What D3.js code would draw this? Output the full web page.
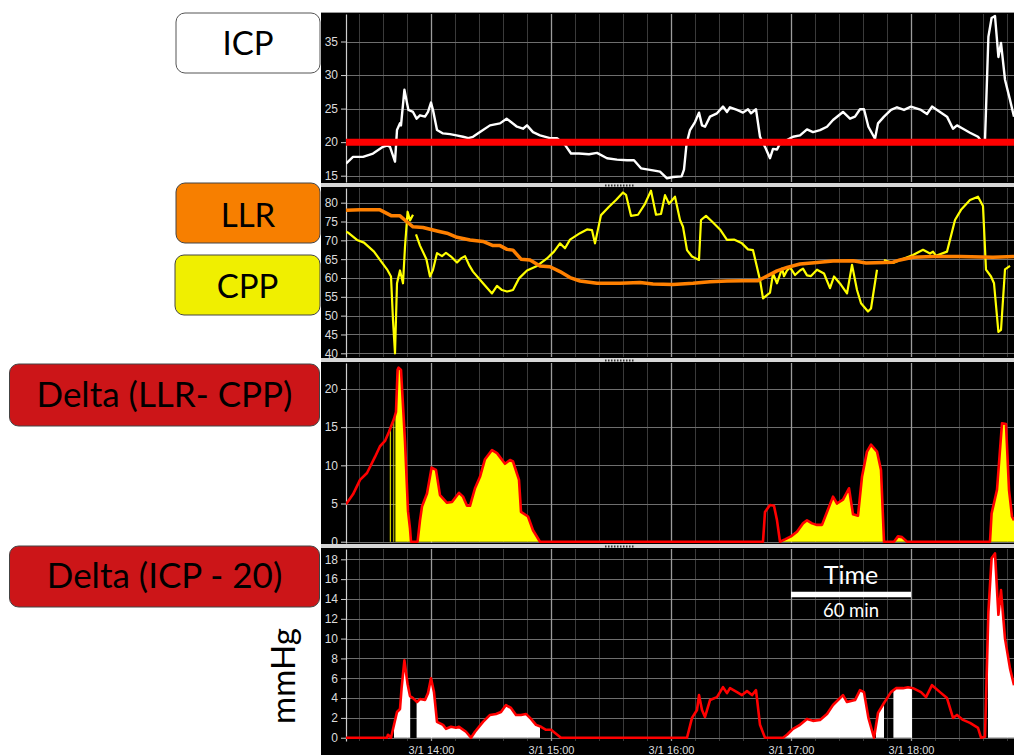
<!DOCTYPE html>
<html><head><meta charset="utf-8">
<script src="https://cdn.jsdelivr.net/npm/d3@7"></script>
<style>body{margin:0;background:#fff;} svg{display:block;}</style>
</head><body>
<svg id="c" width="1014" height="755"></svg>
<script>
// ---------- DATA (time = minutes after 13:00 on 3/1) ----------
const timeStart = 17.5, timeEnd = 351.5;
const icpTicks = [15, 20, 25, 30, 35];
const pressureTicks = [40, 45, 50, 55, 60, 65, 70, 75, 80];
const deltaLlrTicks = [0, 5, 10, 15, 20];
const deltaIcpTicks = [0, 2, 4, 6, 8, 10, 12, 14, 16, 18];
const icpThreshold = 20;

const icpSeries = [[17.5,16.8],[21,17.8],[26,17.8],[31,18.3],[36,19.3],[38,19.5],[39.5,19.3],[42,17.1],[43,21.8],[44.5,22.8],[45,22.5],[46.7,27.8],[48.7,24.8],[51,24.5],[52.8,23.5],[54.5,24],[57,23.8],[58.5,24.5],[60,25.9],[61,24.8],[63,21.8],[66,21.3],[69.5,21.2],[72.7,21],[76,20.8],[78.7,20.6],[81,20.8],[84.5,21.5],[89.5,22.5],[94.5,22.8],[97.8,23.5],[100,23],[103,22.3],[106,22],[108,22.5],[111,21.5],[114.5,21],[119.5,20.6],[123,20.6],[127,19.6],[130,18.3],[134,18.3],[139,18.2],[143,18.4],[148,17.6],[153,17.4],[158,17.3],[161.5,17.3],[165,16.1],[171,15.8],[174.5,15.6],[178,14.6],[181,14.8],[185.3,14.9],[186.5,15.9],[187.8,19.8],[189.5,21.8],[192,23],[194,24.4],[195.5,22.5],[197,22.3],[199.5,23.8],[203,24.3],[206,25.3],[208,24.5],[209.5,25.2],[213,24.8],[216,24.4],[218.5,24.9],[220,24.3],[222.5,24.9],[224.5,20.8],[227,19.3],[229.5,17.6],[231,19.0],[233,18.9],[234.5,19.8],[238,20.3],[241,20.8],[244.5,21],[248,21.9],[251,21.5],[254.5,21.8],[258,22.3],[261,23.3],[266,24.5],[269.5,23.5],[272,23.8],[274.5,24.9],[276.5,24.9],[278.7,22.3],[282,20.5],[283.5,22.8],[286.5,23.8],[290,24.8],[293,25.2],[296.5,24.8],[300,25.3],[305,24.8],[308,24.2],[310.5,25.3],[314.5,24.5],[318,23.8],[321,22],[323,22.5],[326,22],[329.5,21.4],[333.5,20.8],[335,20.2],[337,20.3],[338.7,35.7],[340.3,38.5],[342,38.8],[343.7,32.7],[345,34.8],[347,29.3],[349.5,26.3],[351.5,23.8]];

const llrSeries = [[17.5,78],[24.5,78.1],[34.5,78.1],[40.3,76.5],[44.5,76.5],[47.8,75.0],[51,73.6],[56,73.4],[63,72.5],[68,71.9],[73,70.8],[79.5,70.1],[86,69.7],[91,68.6],[94.5,68.6],[98,67.6],[101,67.4],[105,65.0],[109.5,64.8],[114.5,63.2],[119.5,63.0],[124.5,61.7],[129.5,60.1],[134.5,59.2],[143,58.6],[154.5,58.6],[164.5,58.8],[171,58.4],[181,58.3],[191,58.6],[199.5,59.0],[208,59.2],[216,59.3],[223.5,59.3],[228,60.5],[233,61.9],[238,62.8],[244.5,63.7],[253,64.1],[261,64.5],[271,64.6],[277.5,64.0],[291,64.2],[294.5,64.8],[301,65.5],[311,65.7],[324.5,65.7],[341,65.5],[351.5,65.7]];

const cppSeries = [[17.5,72.3],[18.7,72.0],[23,70.1],[26.5,69.4],[31.5,67.0],[34.5,64.8],[38,62.3],[40,60.4],[41,48.8],[42,40.0],[43,58.6],[44.5,62.0],[46,58.6],[47,68.3],[48.3,77.6],[49.5,75.3],[51,76.8],[51.8,null],[52.5,71.6],[54.5,68.6],[57.7,65.0],[59.5,60.4],[61,62.2],[63,66.6],[65.5,65.8],[67.5,66.7],[70,65.7],[73,64.1],[75,65.2],[77,65.8],[79,63.5],[81,61.7],[86,58.6],[90.5,55.9],[93,57.9],[95.5,56.8],[98,56.4],[101,56.8],[104,59.9],[108,62.0],[113,63.2],[118,65.2],[121.5,67.0],[124.5,69.2],[127,67.9],[129.5,70.2],[134.5,71.9],[138,72.9],[140.5,72.7],[142,69.2],[145,76.7],[149,78.9],[152.5,80.7],[156,82.7],[157.5,82.1],[160,76.5],[163.5,76.8],[167,79.7],[170,83.2],[172.5,76.8],[175,77.0],[177,82.0],[179,79.7],[180,80.3],[182,81.6],[184.5,75.4],[186,73.6],[188,67.4],[190.5,65.7],[194,64.8],[195,75.4],[197.5,76.5],[200.5,75.0],[204.5,72.9],[208,70.1],[211.5,70.2],[215.5,69.2],[218.5,67.6],[221,67.4],[224.5,59.5],[226,54.6],[229.5,56.1],[231,61.2],[233,58.6],[235.5,62.5],[236.5,60.5],[238,62.0],[239.5,62.8],[241,61.6],[242,60.8],[244.5,62.0],[246,62.5],[248,60.7],[250,60.5],[253,62.2],[256.5,61.2],[259.5,57.3],[261.5,60.4],[265,58.2],[268,55.9],[270.5,63.5],[273,56.8],[275,53.3],[278.5,51.1],[280,51.9],[283,62.2],[284.5,null],[286.5,64.8],[291,64.0],[294.5,64.8],[301,66.1],[306,67.5],[309.5,66.5],[311,67],[312.5,65.9],[318,67],[322,75.4],[325,78.1],[329.5,80.7],[333.5,81.6],[336,79.1],[337.5,62.2],[340,60.4],[341.5,58.6],[343.7,45.7],[345,46.2],[347,62.3],[349.5,63.2]];

const deltaLlrCppSeries = [[17.5,4.9],[21,6.2],[24.5,8.1],[28,9.0],[32,11.1],[34.5,12.5],[37,13.2],[39,14.4],[41.5,16.1],[42.5,17],[43.3,22.5],[43.8,22.8],[45,22.5],[47,13.1],[48.5,4],[49.5,1.7],[50,0],[53.3,0],[54.5,2.8],[55.5,4.6],[58,6.3],[60.3,9.7],[62.5,9.4],[64.5,6.1],[68,5.1],[70.5,5.2],[74,6.4],[76,5.9],[78,4.7],[79.5,4.7],[82,7.0],[84.5,8.5],[87,10.8],[90.5,12.0],[93,11.6],[97,10.2],[99.5,10.7],[101,10.5],[104,8.1],[105,3.9],[108.5,3.3],[111,1.5],[114.5,0],[226,0],[227,3.9],[229.5,4.8],[231.5,4.7],[233,2.8],[234.5,0],[237,0.3],[240,0.7],[243,1.3],[246,2.4],[248,2.8],[250.5,2.4],[253,2.2],[255.5,2.2],[258,3.9],[261,5.9],[263,5.0],[266,5.5],[269,7.0],[271,3.6],[273.5,3.4],[275.5,8.5],[278,11.8],[280,12.7],[283,11.8],[285,9.4],[286.5,0],[291.5,0],[293.5,0.7],[295.5,0.6],[298,0],[339.5,0],[340.3,3.7],[343,6.8],[345.5,15.5],[347.5,15.4],[349,6.8],[350.5,3.3],[351.5,2.8]];
const deltaLlrCppFilled = [[39.4,39.9],[41.2,41.6],[42.2,50.5],[53,115],[236,287],[292,298.5],[339,352]];

const deltaIcpSeries = [[17.5,0],[38,0],[38.5,0.3],[40,0],[43,2.6],[44.5,2.9],[45.3,5.0],[46.7,7.8],[48.3,5.4],[49.5,4.2],[51,4.0],[53,3.6],[54.5,3.9],[57,3.8],[58.5,4.5],[60,6.0],[61.5,4.6],[63,1.6],[66,1.3],[67.5,0.9],[70,1.1],[72.5,1.0],[74,1.1],[77.5,0.6],[80,0],[82,0.6],[86,1.6],[89.5,2.3],[92.5,2.4],[95,2.6],[97.5,3.3],[100,3.0],[102.5,2.3],[105,2.3],[107.5,2.4],[110,1.9],[112.5,1.3],[115,1.1],[117.5,0.8],[120,0.8],[122.5,0.4],[125,0],[188,0],[190.5,2.0],[193,2.8],[194,4.3],[195.5,2.8],[197,2.1],[199.5,3.8],[203,4.1],[206,5.1],[208,4.5],[209.5,5.0],[213,4.6],[215.5,4.3],[218,4.7],[220.5,4.3],[222.5,4.8],[224.5,1.3],[227,0],[236,0],[238,0.3],[241,0.9],[244.5,1.3],[248,1.9],[251,1.7],[254.5,1.8],[258,2.4],[261,3.3],[266,4.3],[268,3.6],[272,3.8],[274.5,4.8],[276.5,4.6],[278.7,2.0],[281.5,0],[283.5,2.5],[286.5,3.5],[290,4.6],[292.5,5.0],[296,5.0],[298.5,5.1],[301,5.0],[305,4.6],[307.5,4.1],[310.5,5.3],[314.5,4.6],[318,4.0],[321,2.0],[323,2.3],[326,1.8],[329.5,1.5],[333.5,1.0],[335,0],[337,0.1],[338.7,12.7],[340.3,18.1],[342,18.6],[343.7,12.4],[345,14.9],[347,10.0],[349.5,7.0],[351.5,5.3]];
const deltaIcpFilled = [[41.5,49.6],[52.8,114.5],[236,281.5],[282.5,286.5],[291.2,300.5],[338.5,352]];

const scaleBarMinutes = [240, 300]; // 17:00 - 18:00

// ---------- LAYOUT ----------
const svg = d3.select("#c");
const t0 = new Date(2021, 2, 1, 13, 0, 0).getTime();
const toDate = m => new Date(t0 + m * 60000);
const X0 = 346, X1 = 1014;
const x = d3.scaleTime().domain([toDate(timeStart), toDate(timeEnd)]).range([X0, X1]);

const panels = [
  {id: "p1", top: 14, bottom: 182, y: d3.scaleLinear().domain([14.06, 39.1]).range([182, 14]), ticks: icpTicks},
  {id: "p2", top: 188, bottom: 357, y: d3.scaleLinear().domain([39.02, 83.9]).range([357, 188]), ticks: pressureTicks},
  {id: "p3", top: 363, bottom: 543, y: d3.scaleLinear().domain([-0.17, 23.4]).range([543, 363]), ticks: deltaLlrTicks},
  {id: "p4", top: 549, bottom: 741, y: d3.scaleLinear().domain([-0.33, 19.04]).range([741, 549]), ticks: deltaIcpTicks}
];

svg.append("rect").attr("x", 321).attr("y", 12).attr("width", 1014 - 321).attr("height", 755 - 12).attr("fill", "#000");
svg.append("line").attr("x1", 321).attr("x2", 1014).attr("y1", 12.5).attr("y2", 12.5).attr("stroke", "#9a9a9a");

const defs = svg.append("defs");
const majorTicks = x.ticks(d3.timeHour.every(1));
const minorTicks = x.ticks(d3.timeMinute.every(12)).filter(d => d.getMinutes() !== 0);

panels.forEach(p => {
  defs.append("clipPath").attr("id", "clip-" + p.id)
    .append("rect").attr("x", X0).attr("y", p.top).attr("width", X1 - X0).attr("height", p.bottom - p.top);
  const g = svg.append("g");
  g.selectAll(".mv").data(minorTicks).join("line")
    .attr("x1", d => Math.round(x(d)) + 0.5).attr("x2", d => Math.round(x(d)) + 0.5)
    .attr("y1", p.top).attr("y2", p.bottom).attr("stroke", "#3a3a3a").attr("stroke-width", 1);
  g.selectAll(".hg").data(p.ticks).join("line")
    .attr("x1", X0).attr("x2", X1)
    .attr("y1", d => Math.round(p.y(d)) + 0.5).attr("y2", d => Math.round(p.y(d)) + 0.5)
    .attr("stroke", "#6e6e6e").attr("stroke-width", 1);
  g.selectAll(".Mv").data(majorTicks).join("line")
    .attr("x1", d => Math.round(x(d)) + 0.5).attr("x2", d => Math.round(x(d)) + 0.5)
    .attr("y1", p.top).attr("y2", p.bottom).attr("stroke", "#9c9c9c").attr("stroke-width", 1.3);
  const ax = svg.append("g").attr("transform", `translate(${X0},0)`)
    .call(d3.axisLeft(p.y).tickValues(p.ticks).tickSize(5).tickPadding(3).tickSizeOuter(0));
  ax.select(".domain").attr("stroke", "#cfcfcf").attr("stroke-width", 1.2);
  ax.selectAll(".tick line").attr("stroke", "#cfcfcf");
  ax.selectAll("text").attr("fill", "#dcdcdc").style("font-family", "'Liberation Sans', Arial, sans-serif").style("font-size", "12px");
  p.g = svg.append("g").attr("clip-path", `url(#clip-${p.id})`);
});

[[183, 187], [358, 362], [544, 548]].forEach(([a, b]) => {
  svg.append("rect").attr("x", 321).attr("y", a).attr("width", 1014 - 321).attr("height", b - a).attr("fill", "#d6d6d6");
  svg.append("line").attr("x1", 605).attr("x2", 635).attr("y1", (a + b) / 2 + 0.5).attr("y2", (a + b) / 2 + 0.5)
    .attr("stroke", "#333").attr("stroke-width", 2).attr("stroke-dasharray", "1.5,1.5");
});

const lineGen = y => d3.line().defined(d => d[1] !== null).x(d => x(toDate(d[0]))).y(d => y(d[1]));
const areaGen = y => d3.area().defined(d => d[1] !== null).x(d => x(toDate(d[0]))).y0(y(0)).y1(d => y(d[1]));

{
  const p = panels[0];
  p.g.append("path").datum(icpSeries).attr("d", lineGen(p.y)).attr("fill", "none").attr("stroke", "#fff").attr("stroke-width", 2.4).attr("stroke-linejoin", "round");
  p.g.append("line").attr("x1", X0).attr("x2", X1).attr("y1", p.y(icpThreshold)).attr("y2", p.y(icpThreshold)).attr("stroke", "#ff0000").attr("stroke-width", 7);
}
{
  const p = panels[1];
  p.g.append("path").datum(cppSeries).attr("d", lineGen(p.y)).attr("fill", "none").attr("stroke", "#ffff00").attr("stroke-width", 2.2).attr("stroke-linejoin", "round");
  p.g.append("path").datum(llrSeries).attr("d", lineGen(p.y)).attr("fill", "none").attr("stroke", "#ff8000").attr("stroke-width", 3.5).attr("stroke-linejoin", "round");
}
function filledArea(p, series, ranges, color, clipId) {
  const cp = defs.append("clipPath").attr("id", clipId);
  ranges.forEach(r => cp.append("rect").attr("x", x(toDate(r[0]))).attr("width", x(toDate(r[1])) - x(toDate(r[0])))
    .attr("y", p.top).attr("height", p.bottom - p.top));
  p.g.append("path").datum(series).attr("d", areaGen(p.y)).attr("fill", color).attr("clip-path", `url(#${clipId})`);
}
{
  const p = panels[2];
  filledArea(p, deltaLlrCppSeries, deltaLlrCppFilled, "#ffff00", "fill3");
  p.g.append("path").datum(deltaLlrCppSeries).attr("d", lineGen(p.y)).attr("fill", "none").attr("stroke", "#ff0000").attr("stroke-width", 2.6).attr("stroke-linejoin", "round");
}
{
  const p = panels[3];
  filledArea(p, deltaIcpSeries, deltaIcpFilled, "#ffffff", "fill4");
  p.g.append("path").datum(deltaIcpSeries).attr("d", lineGen(p.y)).attr("fill", "none").attr("stroke", "#ff0000").attr("stroke-width", 2.6).attr("stroke-linejoin", "round");
}

const xa = svg.append("g").attr("transform", "translate(0,741)")
  .call(d3.axisBottom(x).ticks(d3.timeHour.every(1)).tickFormat(d3.timeFormat("%-m/%-d %H:%M")).tickSize(0).tickPadding(5));
xa.select(".domain").remove();
xa.selectAll("text").attr("fill", "#dcdcdc").style("font-family", "'Liberation Sans', Arial, sans-serif").style("font-size", "11px");

{
  const xa0 = x(toDate(scaleBarMinutes[0])), xa1 = x(toDate(scaleBarMinutes[1]));
  const cx = (xa0 + xa1) / 2;
  svg.append("line").attr("x1", xa0).attr("x2", xa1).attr("y1", 594.5).attr("y2", 594.5).attr("stroke", "#fff").attr("stroke-width", 5.5);
  svg.append("text").attr("x", cx).attr("y", 584).attr("text-anchor", "middle").attr("fill", "#fff")
    .style("font-family", "Lato, 'Open Sans', sans-serif").style("font-size", "25px").text("Time");
  svg.append("text").attr("x", cx).attr("y", 617).attr("text-anchor", "middle").attr("fill", "#fff")
    .style("font-family", "Lato, 'Open Sans', sans-serif").style("font-size", "18.5px").text("60 min");
}

const labels = [
  {text: "ICP", x: 176, y: 13, w: 144, h: 60, fill: "#ffffff", stroke: "#555", base: 55, size: 33},
  {text: "LLR", x: 176, y: 183, w: 144, h: 60, fill: "#f77f00", stroke: "#444", base: 227, size: 33},
  {text: "CPP", x: 175, y: 255, w: 145, h: 60, fill: "#f0ef00", stroke: "#444", base: 298, size: 33},
  {text: "Delta (LLR- CPP)", x: 9.5, y: 364, w: 310, h: 62, fill: "#cc1518", stroke: "#444", base: 407, size: 35},
  {text: "Delta (ICP - 20)", x: 9.5, y: 546, w: 310, h: 61, fill: "#cc1518", stroke: "#444", base: 588, size: 35}
];
labels.forEach(l => {
  svg.append("rect").attr("x", l.x).attr("y", l.y).attr("width", l.w).attr("height", l.h).attr("rx", 9)
    .attr("fill", l.fill).attr("stroke", l.stroke).attr("stroke-width", 1);
  svg.append("text").attr("x", l.x + l.w / 2).attr("y", l.base).attr("text-anchor", "middle").attr("fill", "#000")
    .style("font-family", "Lato, 'Open Sans', sans-serif").style("font-size", l.size + "px").text(l.text);
});
svg.append("text").attr("transform", "translate(295,676) rotate(-90)").attr("text-anchor", "middle").attr("fill", "#000")
  .style("font-family", "Lato, 'Open Sans', sans-serif").style("font-size", "33px").text("mmHg");
</script>
</body></html>
